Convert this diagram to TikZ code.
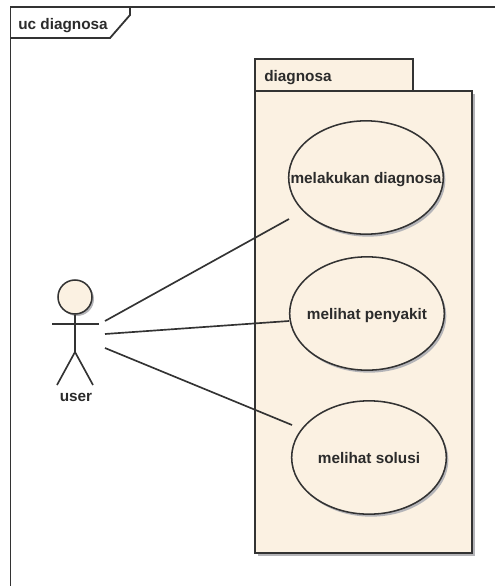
\documentclass[tikz,border=0pt]{standalone}
\usepackage{fontspec}
\setmainfont{Liberation Sans}
\usetikzlibrary{shapes.geometric}
\definecolor{umlfill}{HTML}{FBF1E2}
\definecolor{umlline}{HTML}{333333}
\definecolor{umlshadow}{HTML}{B4B4B8}
\newcommand{\zw}[1]{\raisebox{-4.6pt}[0pt][0pt]{\makebox[0pt][c]{#1}}}
\tikzset{
  every node/.style={font=\fontsize{11.5}{13}\selectfont\bfseries,text=umlline!85!black},
  line/.style={draw=umlline,line width=1.25pt},
  frameline/.style={draw=umlline,line width=1.35pt},
  usecase/.style={ellipse,draw=umlline,line width=1.15pt,fill=umlfill,inner sep=0pt,minimum width=116pt,minimum height=85pt},
  caseshadow/.style={ellipse,fill=umlshadow,inner sep=0pt,minimum width=116pt,minimum height=85pt},
  pkg/.style={draw=umlline,line width=1.25pt,fill=umlfill,line join=miter},
  shadowfill/.style={fill=umlshadow,draw=none},
  conn/.style={draw=umlline,line width=1.25pt}
}
\begin{document}
\begin{tikzpicture}[x=0.75pt,y=-0.75pt]
\useasboundingbox (0,0) rectangle (495,586);
% frame
\draw[frameline] (495,7) -- (10.5,7) -- (10.5,586);
\draw[frameline] (130,7) -- (130,15) -- (110,38) -- (10.5,38);
\node[anchor=west,inner sep=0pt] (frametitle) at (18,26) {uc diagnosa};
% package
\fill[shadowfill] (258,94) rectangle (475,556);
\draw[pkg] (255,91) -- (255,59) -- (413,59) -- (413,91);
\draw[pkg] (255,91) rectangle (472,553);
\node[anchor=west,inner sep=0pt] (pkgtitle) at (264,78) {diagnosa};
% use cases
\node[caseshadow] at (368,180) {};
\node[caseshadow] at (369,316) {};
\node[caseshadow] at (371,460) {};
\node[usecase] (uc1) at (366,177.5) {\zw{melakukan diagnosa}};
\node[usecase] (uc2) at (367,313.5) {\zw{melihat penyakit}};
\node[usecase] (uc3) at (369,457.5) {\zw{melihat solusi}};
% actor
\node[circle,fill=umlshadow,minimum size=25.5pt,inner sep=0pt] at (77,299) {};
\node[circle,draw=umlline,line width=1.15pt,fill=umlfill,minimum size=25.5pt,inner sep=0pt] (head) at (75,297) {};
\coordinate (armL) at (52,324);
\coordinate (armR) at (99,324);
\coordinate (hip) at (75,352);
\coordinate (legL) at (57,385);
\coordinate (legR) at (93,385);
\draw[line] (head.south) -- (hip);
\draw[line] (armL) -- (armR);
\draw[line] (legL) -- (hip) -- (legR);
\node[inner sep=0pt] (user) at (76,397) {user};
% connectors
\coordinate (a1) at (105,321);
\coordinate (a2) at (105,334);
\coordinate (a3) at (105,348);
\coordinate (e1) at (289,219);
\coordinate (e2) at (289,321);
\coordinate (e3) at (292,425);
\draw[conn] (a1) -- (e1);
\draw[conn] (a2) -- (e2);
\draw[conn] (a3) -- (e3);
\end{tikzpicture}
\end{document}
